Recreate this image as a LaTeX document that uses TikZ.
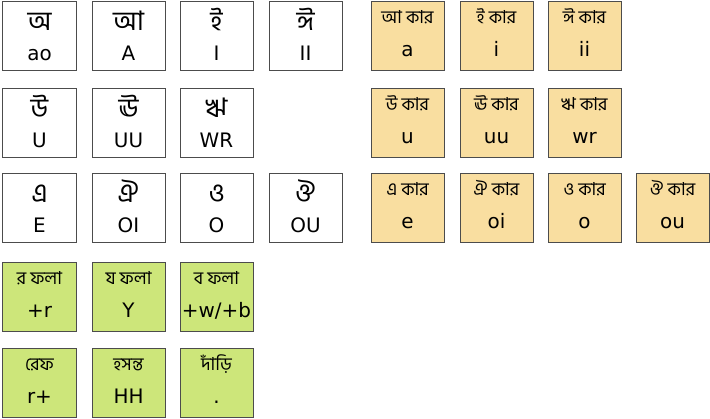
\documentclass[tikz,border=0pt]{standalone}
\usepackage{fontspec}
\setmainfont{DejaVu Sans}
\newfontfamily\bangla[Script=Bengali]{Hind Siliguri}
\usetikzlibrary{calc}
\definecolor{karfill}{RGB}{249,222,160}
\definecolor{folafill}{RGB}{205,230,122}
\tikzset{
	keybox/.style={draw=black!70, line width=1bp, minimum width=73bp, minimum height=69bp, inner sep=0pt},
	vowelkey/.style={keybox, fill=white},
	karkey/.style={keybox, fill=karfill},
	folakey/.style={keybox, fill=folafill},
	bigbn/.style={font=\bangla\fontsize{27}{30}\selectfont, anchor=base, inner sep=0pt},
	smallbn/.style={font=\bangla\fontsize{18}{20}\selectfont, anchor=base, inner sep=0pt},
	latin/.style={font=\fontsize{20}{24}\selectfont, anchor=base, inner sep=0pt}
}
\def\vowel(#1)(#2)#3#4{
	\node[vowelkey] (#1) at (#2) {};
	\node[bigbn] (#1-bn) at ($(#1.north)+(0,30)$) {#3};
	\node[latin] (#1-lat) at ($(#1.north)+(0,60)$) {#4};
}
\def\sign[#1](#2)(#3)#4#5{
	\node[#1] (#2) at (#3) {};
	\node[smallbn] (#2-bn) at ($(#2.north)+(0,23)$) {#4};
	\node[latin] (#2-lat) at ($(#2.north)+(0,56)$) {#5};
}

\begin{document}
\begin{tikzpicture}[x=1bp, y=-1bp]
	\useasboundingbox (0,0) rectangle (710,418);
	
	%%%%% vowels %%%%%
	\vowel(vA)(39.5,35.5){অ}{ao}
	\vowel(vAA)(128.5,35.5){আ}{A}
	\vowel(vI)(216.5,35.5){ই}{I}
	\vowel(vII)(305.5,35.5){ঈ}{II}
	
	\vowel(vU)(39.5,122.5){উ}{U}
	\vowel(vUU)(128.5,122.5){ঊ}{UU}
	\vowel(vR)(216.5,122.5){ঋ}{WR}
	
	\vowel(vE)(39.5,207.5){এ}{E}
	\vowel(vOI)(128.5,207.5){ঐ}{OI}
	\vowel(vO)(216.5,207.5){ও}{O}
	\vowel(vOU)(305.5,207.5){ঔ}{OU}
	
	%%%%% kar %%%%%
	\sign[karkey](kAA)(407.5,35.5){আ কার}{a}
	\sign[karkey](kI)(496.5,35.5){ই কার}{i}
	\sign[karkey](kII)(584.5,35.5){ঈ কার}{ii}
	
	\sign[karkey](kU)(407.5,122.5){উ কার}{u}
	\sign[karkey](kUU)(496.5,122.5){ঊ কার}{uu}
	\sign[karkey](kR)(584.5,122.5){ঋ কার}{wr}
	
	\sign[karkey](kE)(407.5,207.5){এ কার}{e}
	\sign[karkey](kOI)(496.5,207.5){ঐ কার}{oi}
	\sign[karkey](kO)(584.5,207.5){ও কার}{o}
	\sign[karkey](kOU)(672.5,207.5){ঔ কার}{ou}
	
	%%%%% fola and others %%%%%
	\sign[folakey](fRa)(39.5,296.5){র ফলা}{+r}
	\sign[folakey](fYa)(128.5,296.5){য ফলা}{Y}
	\sign[folakey](fBa)(216.5,296.5){ব ফলা}{+w/+b}
	
	\sign[folakey](reph)(39.5,382.5){রেফ}{r+}
	\sign[folakey](hasanta)(128.5,382.5){হসন্ত}{HH}
	\sign[folakey](dari)(216.5,382.5){দাঁড়ি}{.}
\end{tikzpicture}
\end{document}
